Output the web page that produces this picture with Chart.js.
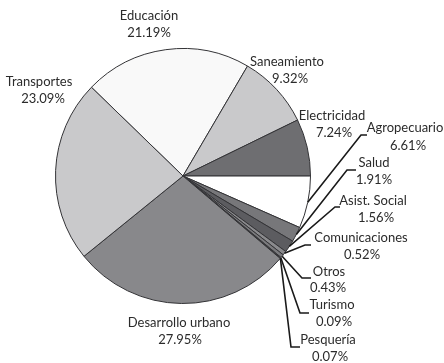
<!DOCTYPE html>
<html>
<head>
<meta charset="utf-8">
<script src="https://cdn.jsdelivr.net/npm/chart.js@4.4.0/dist/chart.umd.min.js"></script>
<style>
html,body{margin:0;padding:0;background:#fff;}
#c{display:block;}
</style>
</head>
<body>
<canvas id="c" width="444" height="363"></canvas>
<script>
const categories = ["Educación","Saneamiento","Electricidad","Agropecuario","Salud","Asist. Social","Comunicaciones","Otros","Turismo","Pesquería","Desarrollo urbano","Transportes"];
const values = [21.19, 9.32, 7.24, 6.61, 1.91, 1.56, 0.52, 0.43, 0.09, 0.07, 27.95, 23.09];
const valueLabels = ["21.19%","9.32%","7.24%","6.61%","1.91%","1.56%","0.52%","0.43%","0.09%","0.07%","27.95%","23.09%"];
const colors = ["#f9f9f9","#c9c9cb","#6e6e71","#ffffff","#77777a","#5c5c60","#8a8a8d","#7a7a7d","#a8a8aa","#666669","#88888b","#c9c9cb"];

// label layout: [name x, name y, value x, value y, elbow x, elbow y, end x] (leader null if none)
const labelLayout = [
  {nx:149, ny:16, vx:149, vy:33},
  {nx:287, ny:62, vx:290, vy:79},
  {nx:332, ny:116, vx:334, vy:133},
  {nx:405, ny:128, vx:408, vy:146, ex:361, ey:135, tx:367},
  {nx:374, ny:163, vx:374, vy:180, ex:347, ey:170, tx:356},
  {nx:373, ny:201, vx:376, vy:218, ex:335, ey:207, tx:340},
  {nx:361, ny:238, vx:362, vy:255, ex:305, ey:245, tx:311},
  {nx:329, ny:272, vx:328, vy:288, ex:302, ey:278, tx:311},
  {nx:332, ny:305, vx:334, vy:322, ex:300, ey:313, tx:309},
  {nx:328, ny:340, vx:330, vy:357, ex:291, ey:347, tx:300},
  {nx:179, ny:323, vx:180, vy:340},
  {nx:39, ny:82, vx:43, vy:99}
];

const labelPlugin = {
  id: 'pieLabels',
  afterDatasetsDraw(chart) {
    const ctx = chart.ctx;
    const meta = chart.getDatasetMeta(0);
    ctx.save();
    meta.data.forEach((arc, i) => {
      const L = labelLayout[i];
      if (L.ex !== undefined) {
        const mid = (arc.startAngle + arc.endAngle) / 2;
        const r = arc.outerRadius;
        const sx = arc.x + Math.cos(mid) * r;
        const sy = arc.y + Math.sin(mid) * r;
        ctx.beginPath();
        ctx.moveTo(sx, sy);
        ctx.lineTo(L.ex, L.ey);
        ctx.lineTo(L.tx, L.ey);
        ctx.strokeStyle = '#1a1a1a';
        ctx.lineWidth = 1.6;
        ctx.stroke();
      }
      ctx.fillStyle = '#2b2b2b';
      ctx.font = '13px Lato, "Open Sans", sans-serif';
      ctx.textAlign = 'center';
      ctx.textBaseline = 'middle';
      ctx.fillText(categories[i], L.nx, L.ny);
      ctx.fillText(valueLabels[i], L.vx, L.vy);
    });
    ctx.restore();
  }
};

const rotationDeg = 90 - (values[0] + values[1] + values[2]) * 3.6;

new Chart(document.getElementById('c'), {
  type: 'pie',
  data: {
    labels: categories,
    datasets: [{
      data: values,
      backgroundColor: colors,
      borderColor: '#333336',
      borderWidth: 1
    }]
  },
  options: {
    responsive: false,
    animation: false,
    rotation: rotationDeg,
    layout: { padding: { left: 55, top: 48, right: 133, bottom: 59 } },
    plugins: {
      legend: { display: false },
      tooltip: { enabled: false }
    }
  },
  plugins: [labelPlugin]
});
</script>
</body>
</html>
